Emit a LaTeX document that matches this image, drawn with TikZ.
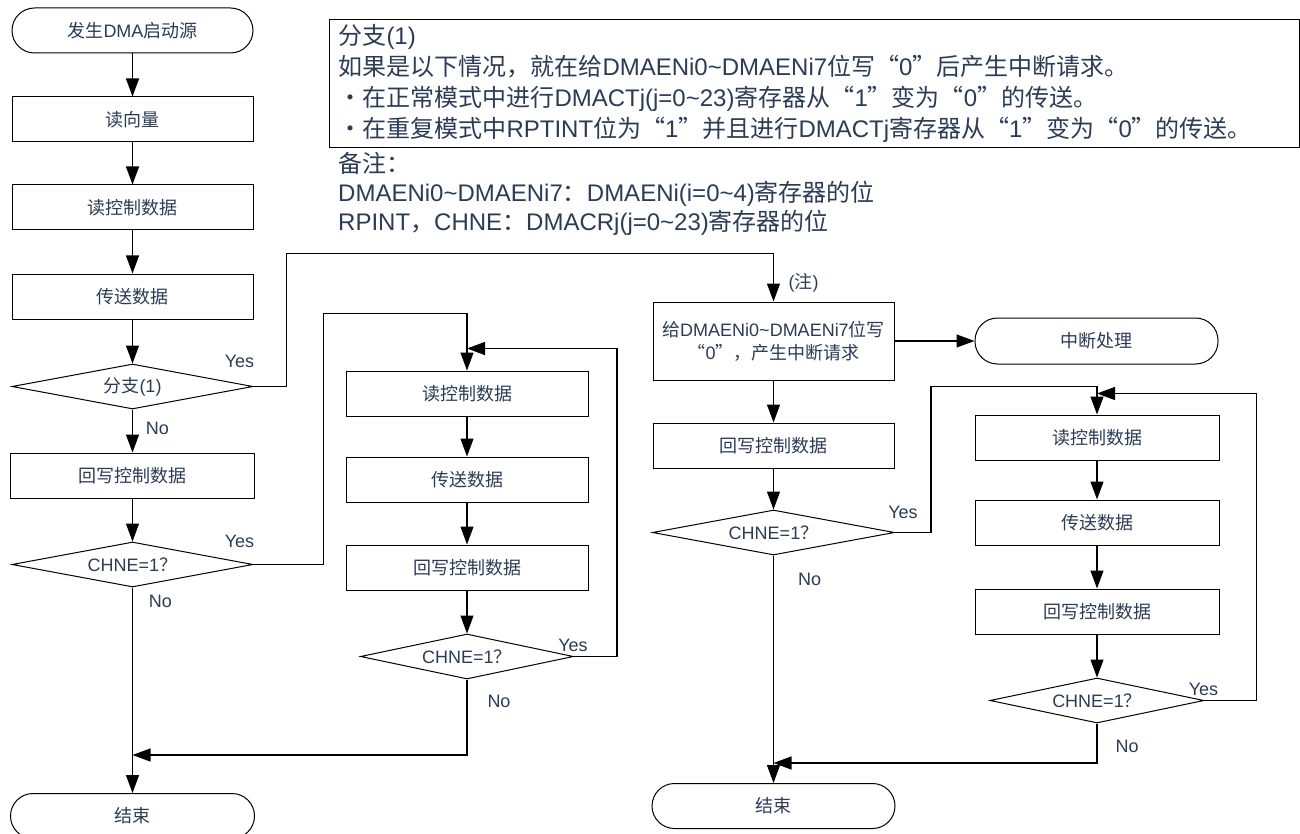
\documentclass[tikz,border=0pt]{standalone}
\usepackage{fontspec}
\setmainfont{Liberation Sans}
\newfontfamily\cjkfont{Noto Sans CJK SC}
\newfontfamily\latinfont{Liberation Sans}
\usetikzlibrary{shapes.geometric, arrows.meta, positioning}
\usepackage{xcolor}
% switch to the CJK font for Chinese characters
\XeTeXinterchartokenstate=1
\newXeTeXintercharclass\cjkclass
\newcount\cjkcode
\newcommand\cjkrange[2]{%
  \cjkcode=#1\relax
  \loop
    \XeTeXcharclass\cjkcode=\cjkclass
  \ifnum\cjkcode<#2\relax
    \advance\cjkcode by 1\relax
  \repeat}
\cjkrange{"3000}{"30FF}
\cjkrange{"4E00}{"9FFF}
\cjkrange{"FF00}{"FFEF}
\XeTeXcharclass"201C=\cjkclass
\XeTeXcharclass"201D=\cjkclass
\XeTeXinterchartoks 0 \cjkclass = {\cjkfont}
\XeTeXinterchartoks 4095 \cjkclass = {\cjkfont}
\XeTeXinterchartoks \cjkclass 0 = {\latinfont}
\XeTeXinterchartoks \cjkclass 4095 = {\latinfont}
\definecolor{txtc}{HTML}{2B3C57}
\tikzstyle{procbox}  = [rectangle, draw=black, line width=1pt, minimum width=242pt,
                        minimum height=45pt, inner sep=2pt, align=center,
                        font=\fontsize{18}{23}\selectfont]
\tikzstyle{termbox}  = [procbox, rounded corners=22.5pt]
\tikzstyle{decision} = [diamond, draw=black, line width=1pt, shape aspect=5,
                        inner sep=0pt, minimum height=45pt,
                        font=\fontsize{18}{23}\selectfont]
\tikzstyle{arrow}    = [line width=1.2pt, -{Triangle[length=18pt,width=13pt]}]
\tikzstyle{lbl}      = [font=\fontsize{18}{22}\selectfont, inner sep=0pt]

\begin{document}
\begin{tikzpicture}[x=1pt, y=-1pt, every node/.style={text=txtc}]

  \clip (0,0) rectangle (1300,834);
  \fill[white] (0,0) rectangle (1300,834);

  % --- Main column ---
  \node (start) [termbox, minimum width=241pt] at (132.5,30.5) {发生DMA启动源};
  \node (vec)   [procbox, minimum width=241pt, below=43pt of start] {读向量};
  \node (rd1)   [procbox, minimum width=241pt, below=42pt of vec] {读控制数据};
  \node (tx1)   [procbox, minimum width=241pt, below=43pt of rd1] {传送数据};
  \node (br1)   [decision, minimum width=241pt, below=44pt of tx1] {分支(1)};
  \node (wb1)   [procbox, minimum width=244pt, below=43pt of br1] {回写控制数据};
  \node (ch1)   [decision, minimum width=241pt, below=43pt of wb1] {CHNE=1？};
  \node (end1)  [termbox, minimum width=244pt, anchor=north] at (132.5,793) {结束};

  % --- Chain loop ---
  \node (rd2) [procbox] at (467,393.5) {读控制数据};
  \node (tx2) [procbox, below=40pt of rd2] {传送数据};
  \node (wb2) [procbox, below=42pt of tx2] {回写控制数据};
  \node (ch2) [decision, minimum width=213pt, below=43pt of wb2] {CHNE=1？};

  % --- Interrupt branch ---
  \node (irq)  [procbox, minimum width=241pt, minimum height=78pt] at (773.5,341)
               {给DMAENi0\textasciitilde DMAENi7位写\\“0”，产生中断请求};
  \node (isr)  [termbox, minimum width=243pt, minimum height=46pt] at (1096.5,341) {中断处理};
  \node (wb3)  [procbox, minimum width=241pt, below=42pt of irq] {回写控制数据};
  \node (ch3)  [decision, minimum width=242pt, below=41pt of wb3] {CHNE=1？};
  \node (end2) [termbox, minimum width=243pt, anchor=north] at (773.5,783) {结束};

  % --- Second chain loop ---
  \node (rd3) [procbox, minimum width=244pt] at (1097,437.5) {读控制数据};
  \node (tx3) [procbox, minimum width=244pt, below=39pt of rd3] {传送数据};
  \node (wb4) [procbox, minimum width=244pt, below=43pt of tx3] {回写控制数据};
  \node (ch4) [decision, minimum width=214pt, below=43pt of wb4] {CHNE=1？};

  % --- Notes ---
  \node (note) [draw=black, line width=1pt, anchor=north west, text width=952pt,
                inner xsep=9pt, minimum height=128pt, align=left,
                font=\fontsize{24}{31}\selectfont] at (329,19)
    {分支(1)\\
     如果是以下情况，就在给DMAENi0\textasciitilde DMAENi7位写“0”后产生中断请求。\\
     ・在正常模式中进行DMACTj(j=0\textasciitilde 23)寄存器从“1”变为“0”的传送。\\
     ・在重复模式中RPTINT位为“1”并且进行DMACTj寄存器从“1”变为“0”的传送。};
  \node (remark) [anchor=north west, inner xsep=9pt, inner ysep=0pt, align=left,
                  font=\fontsize{24}{29}\selectfont] at (329,152)
    {备注：\\
     DMAENi0\textasciitilde DMAENi7：DMAENi(i=0\textasciitilde 4)寄存器的位\\
     RPINT，CHNE：DMACRj(j=0\textasciitilde 23)寄存器的位};

  % Arrows
  \draw[arrow] (start) -- (vec);
  \draw[arrow] (vec) -- (rd1);
  \draw[arrow] (rd1) -- (tx1);
  \draw[arrow] (tx1) -- (br1);
  \draw[arrow] (br1) -- (wb1);
  \draw[arrow] (wb1) -- (ch1);
  \draw[arrow] (ch1) -- (end1);
  \draw[arrow] (br1.east) -- ++(33,0) |- ([yshift=48pt]irq.north) -- (irq.north);
  \draw[arrow] (ch1.east) -- ++(70,0) |- ([yshift=57pt]rd2.north) -- (rd2.north);
  \draw[arrow] (rd2) -- (tx2);
  \draw[arrow] (tx2) -- (wb2);
  \draw[arrow] (wb2) -- (ch2);
  \draw[arrow] (ch2.east) -- ++(43,0) |- ([yshift=22pt]rd2.north);
  \draw[arrow] (ch2.south) |- ([yshift=38pt]end1.north);
  \draw[arrow] (irq) -- (isr);
  \draw[arrow] (irq) -- (wb3);
  \draw[arrow] (wb3) -- (ch3);
  \draw[arrow] (ch3) -- (end2);
  \draw[arrow] (ch3.east) -- ++(36,0) |- ([yshift=28pt]rd3.north) -- (rd3.north);
  \draw[arrow] (rd3) -- (tx3);
  \draw[arrow] (tx3) -- (wb4);
  \draw[arrow] (wb4) -- (ch4);
  \draw[arrow] (ch4.east) -- ++(52,0) |- ([yshift=21pt]rd3.north);
  \draw[arrow] (ch4.south) |- ([yshift=20pt]end2.north);

  % Labels
  \node (y1) [lbl] at ([xshift=-14pt,yshift=25pt]br1.east) {Yes};
  \node (n1) [lbl] at ([xshift=25pt,yshift=-19pt]br1.south) {No};
  \node (y2) [lbl] at ([xshift=-14pt,yshift=23pt]ch1.east) {Yes};
  \node (n2) [lbl] at ([xshift=28pt,yshift=-14pt]ch1.south) {No};
  \node (y3) [lbl] at ([xshift=-1pt,yshift=11pt]ch2.east) {Yes};
  \node (n3) [lbl] at ([xshift=32pt,yshift=-22pt]ch2.south) {No};
  \node (nt) [lbl] at ([xshift=30pt,yshift=19pt]irq.north) {(注)};
  \node (y4) [lbl] at ([xshift=8pt,yshift=20pt]ch3.east) {Yes};
  \node (n4) [lbl] at ([xshift=36pt,yshift=-24pt]ch3.south) {No};
  \node (y5) [lbl] at ([xshift=-1pt,yshift=11pt]ch4.east) {Yes};
  \node (n5) [lbl] at ([xshift=30pt,yshift=-23pt]ch4.south) {No};

\end{tikzpicture}
\end{document}
